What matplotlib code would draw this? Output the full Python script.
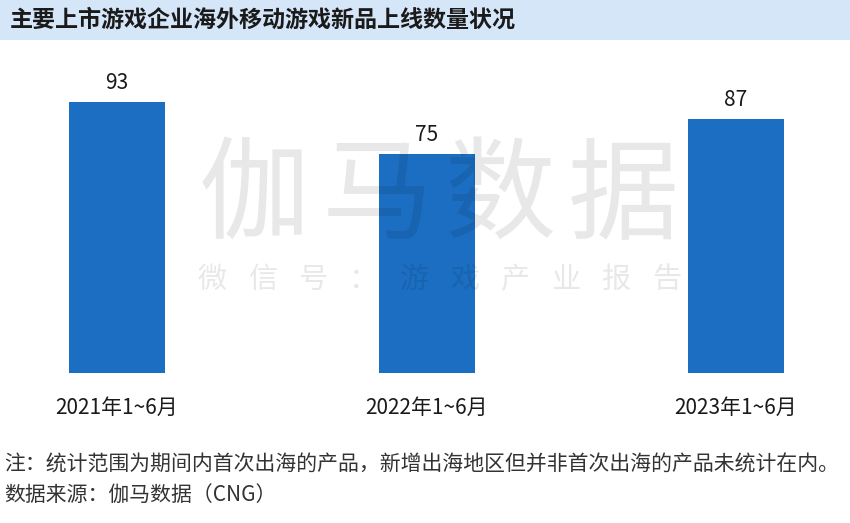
import matplotlib.pyplot as plt
import matplotlib.patches as patches

plt.rcParams['font.family'] = ['Noto Sans CJK SC', 'DejaVu Sans']

# data
categories = ['2021年1~6月', '2022年1~6月', '2023年1~6月']
values = [93, 75, 87]

title = '主要上市游戏企业海外移动游戏新品上线数量状况'
note = '注：统计范围为期间内首次出海的产品，新增出海地区但并非首次出海的产品未统计在内。'
source = '数据来源：伽马数据（CNG）'
mark_big = '伽马数据'
mark_small = '微信号：游戏产业报告'

W, H = 850, 523
fig = plt.figure(figsize=(W / 100, H / 100), dpi=100, facecolor='white')

# title bar
fig.patches.append(patches.Rectangle((0, 1 - 40 / H), 1, 40 / H, transform=fig.transFigure,
                                     facecolor='#d5e6f8', edgecolor='none', zorder=0))
fig.text(10 / W, 1 - 20 / H, title, fontsize=16.6, fontweight='bold', color='#1a1a1a',
         ha='left', va='center')

# axes: baseline at y=373 px, category 0 at x=117 px, spacing 309.5 px
base = 373
top = 50
ax = fig.add_axes([0, 1 - base / H, 1, (base - top) / H])
ax.patch.set_alpha(0)
step = 309.5
ax.set_xlim(-117 / step, (W - 117) / step)
ax.set_ylim(0, (base - top) / 2.914)

x = range(len(categories))
bars = ax.bar(x, values, width=96 / step, color='#1b6ec2', zorder=2)
for xi, v in zip(x, values):
    ax.annotate(str(v), (xi, v), xytext=(0, 6), textcoords='offset points',
                ha='center', va='bottom', fontsize=15, color='#1a1a1a')

ax.set_xticks(list(x))
ax.set_xticklabels(categories, fontsize=15, color='#1a1a1a')
ax.tick_params(axis='x', length=0, pad=17)
ax.set_yticks([])
for s in ax.spines.values():
    s.set_visible(False)

# watermark, semi-transparent over the bars
for i, ch in enumerate(mark_big):
    fig.text((254 + i * 123) / W, 1 - 198 / H, ch, fontsize=80, fontweight='light',
             color='black', alpha=0.09, ha='center', va='center', zorder=5)
for i, ch in enumerate(mark_small):
    fig.text((212 + i * 50.5) / W, 1 - 280 / H, ch, fontsize=21, fontweight='light',
             color='black', alpha=0.09, ha='center', va='center', zorder=5)

# footnotes
fig.text(4 / W, 1 - 465 / H, note, fontsize=15, color='#333333', ha='left', va='center')
fig.text(4 / W, 1 - 495 / H, source, fontsize=15, color='#333333', ha='left', va='center')

fig.savefig('out.png', dpi=100)
